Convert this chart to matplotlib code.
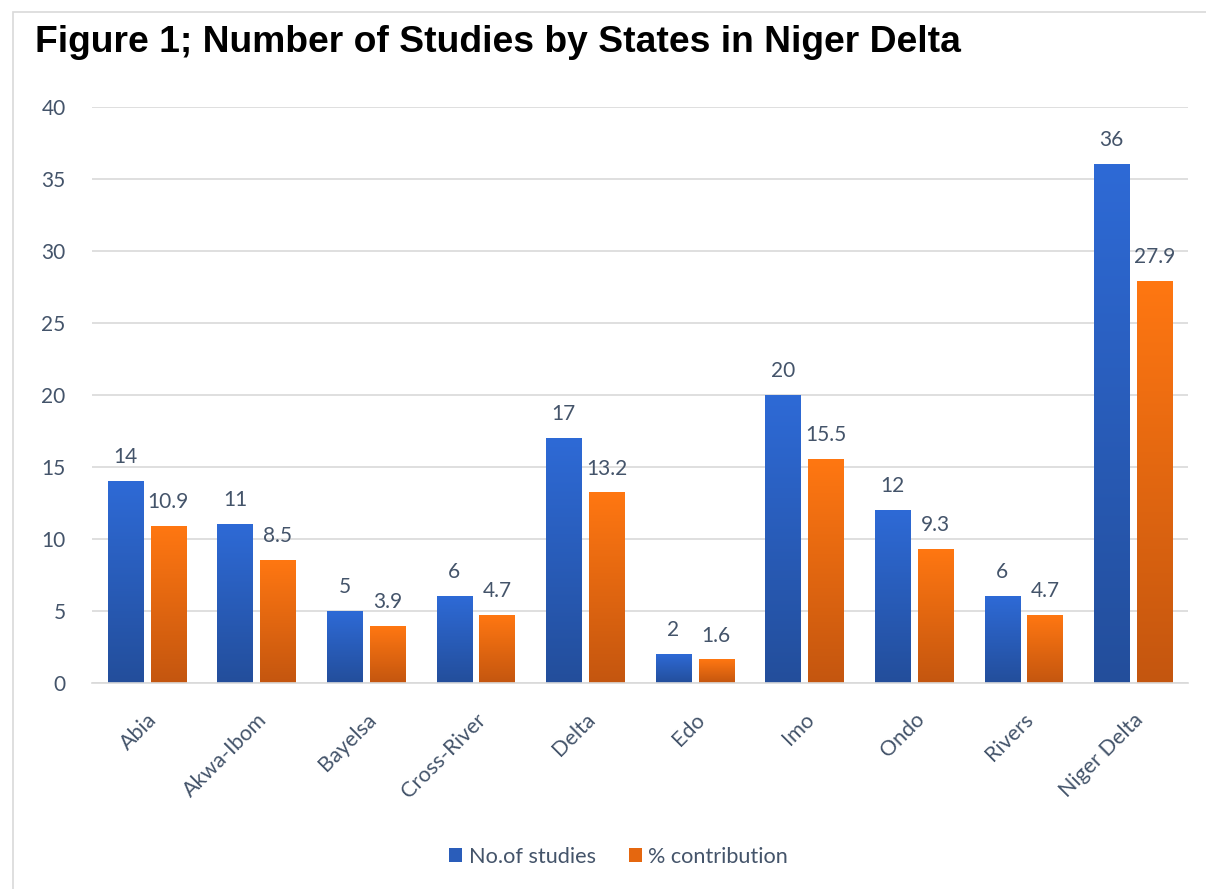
import numpy as np
import matplotlib
matplotlib.use("Agg")
import matplotlib.pyplot as plt
from matplotlib.colors import LinearSegmentedColormap
from matplotlib.patches import Patch, Rectangle

# data
states = ["Abia", "Akwa-Ibom", "Bayelsa", "Cross-River", "Delta", "Edo",
          "Imo", "Ondo", "Rivers", "Niger Delta"]
studies = [14, 11, 5, 6, 17, 2, 20, 12, 6, 36]
contribution = [10.9, 8.5, 3.9, 4.7, 13.2, 1.6, 15.5, 9.3, 4.7, 27.9]
series_names = ["No.of studies", "% contribution"]

TEXT = "#44546A"
GRID = "#D9D9D9"
FS = 15
blue_cmap = LinearSegmentedColormap.from_list("b", ["#234E9B", "#2E6AD6"])
orange_cmap = LinearSegmentedColormap.from_list("o", ["#C4560F", "#FF7712"])

plt.rcParams["font.family"] = ["Lato", "DejaVu Sans"]

fig = plt.figure(figsize=(12.06, 8.89), dpi=100)
ax = fig.add_axes([0.0763, 0.2317, 0.9087, 0.6479])

# outer chart frame
fig.patches.append(Rectangle((13 / 1206, -0.1), 1.2, 1.1 - 12 / 889,
                             transform=fig.transFigure, fill=False,
                             edgecolor="#D9D9D9", lw=1.2, zorder=0))

x = np.arange(len(states))
width = 0.32
offset = 0.195
grad = np.linspace(0, 1, 256).reshape(-1, 1)


def draw_bars(xs, vals, cmap):
    bars = ax.bar(xs, vals, width, color="none", zorder=2)
    for b, v in zip(bars, vals):
        x0 = b.get_x()
        ax.imshow(grad, cmap=cmap, origin="lower", aspect="auto",
                  extent=[x0, x0 + width, 0, v], zorder=2)
        ax.text(x0 + width / 2, v + 1.0, f"{v:g}", ha="center", va="bottom",
                fontsize=FS, color=TEXT)
    return bars


draw_bars(x - offset, studies, blue_cmap)
draw_bars(x + offset, contribution, orange_cmap)

ax.set_xlim(-0.5, len(states) - 0.5)
ax.set_ylim(0, 40)
ax.set_yticks(range(0, 41, 5))
ax.grid(axis="y", color=GRID, lw=1.2, zorder=0)
ax.set_axisbelow(True)
for s in ["top", "right", "left"]:
    ax.spines[s].set_visible(False)
ax.spines["bottom"].set_color(GRID)
ax.spines["bottom"].set_linewidth(1.2)
ax.tick_params(axis="both", length=0, labelsize=FS, colors=TEXT)
ax.tick_params(axis="y", pad=19)
ax.set_xticks(x)
ax.set_xticklabels(states, rotation=45, ha="right", rotation_mode="anchor",
                   fontsize=15.5)
ax.tick_params(axis="x", pad=19)

fig.text(35 / 1206, 1 - 42 / 889, "Figure 1; Number of Studies by States in Niger Delta",
         fontsize=26.8, fontweight="bold", family="Liberation Sans",
         ha="left", va="center", color="black")

handles = [Patch(facecolor="#2A5DBA", edgecolor="none"),
           Patch(facecolor="#E5670F", edgecolor="none")]
fig.legend(handles, series_names, loc="center", bbox_to_anchor=(0.513, 1 - 857 / 889),
           ncol=2, frameon=False, fontsize=15.6, labelcolor=TEXT,
           handlelength=0.6, handleheight=0.6, handletextpad=0.32, columnspacing=1.5)

fig.savefig("out.png", dpi=100)
